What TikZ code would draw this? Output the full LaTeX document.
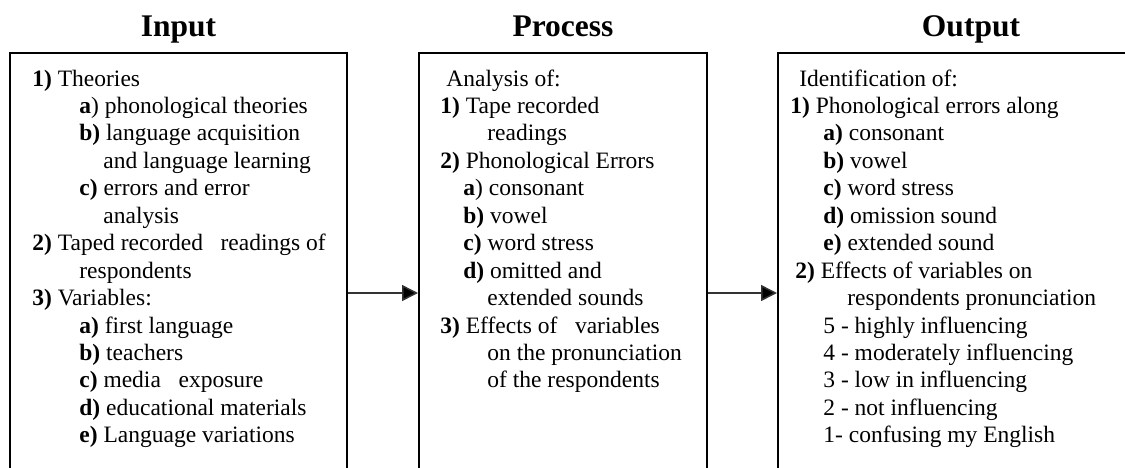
\documentclass[tikz,border=0pt]{standalone}
\usepackage{fontspec}
\setmainfont{Liberation Serif}
\usetikzlibrary{arrows.meta,positioning}
\tikzset{
  box/.style={draw=black, line width=1pt, minimum height=240pt, inner sep=0pt},
  arr/.style={draw=black!80, line width=0.75pt, -{Triangle[length=8pt,width=8pt,fill=black]}},
  head/.style={font=\fontsize{15.75}{18}\selectfont\bfseries, inner sep=0pt},
  lab/.style={font=\fontsize{11.75}{13.7}\selectfont, anchor=base west, inner sep=0pt},
}

\begin{document}
\begin{tikzpicture}[x=0.5pt,y=-0.5pt]
\useasboundingbox (0,0) rectangle (1125,467);
\clip (0,0) rectangle (1125,467);
% the three columns
\node[box, minimum width=168.5pt] (inbox) at (178.5,293) {};
\node[box, minimum width=144pt] (procbox) at (563,293) {};
\node[box, minimum width=193pt] (outbox) at (971,293) {};
\node[head, above=8pt of inbox.north, anchor=base] (inhead) {Input};
\node[head, above=8pt of procbox.north, anchor=base] (prochead) {Process};
\node[head, above=8pt of outbox.north, anchor=base] (outhead) {Output};
\draw[arr] (inbox.east) -- (procbox.west);
\draw[arr] (procbox.east) -- (outbox.west);
% input
\foreach \dx/\t [count=\i] in {
  0/{\textbf{1)} Theories},
  47/{\textbf{a}) phonological theories},
  47/{\textbf{b)} language acquisition},
  71/{and language learning},
  47/{\textbf{c)} errors and error},
  71/{analysis},
  0/{\textbf{2)} Taped recorded \ \ readings of},
  47/{respondents},
  0/{\textbf{3)} Variables:},
  47/{\textbf{a)} first language},
  47/{\textbf{b)} teachers},
  47/{\textbf{c)} media \ \ exposure},
  47/{\textbf{d)} educational materials},
  47/{\textbf{e)} Language variations}}
  \node[lab] (in\i) at (32+\dx, 86+27.45*\i-27.45) {\t};
% process
\foreach \dx/\t [count=\i] in {
  6/{Analysis of:},
  0/{\textbf{1)} Tape recorded},
  47/{readings},
  0/{\textbf{2)} Phonological Errors},
  23/{\textbf{a}) consonant},
  23/{\textbf{b)} vowel},
  23/{\textbf{c)} word stress},
  23/{\textbf{d)} omitted and},
  47/{extended sounds},
  0/{\textbf{3)} Effects of \ \ variables},
  47/{on the pronunciation},
  47/{of the respondents}}
  \node[lab] (proc\i) at (440+\dx, 86+27.45*\i-27.45) {\t};
% output
\foreach \dx/\t [count=\i] in {
  9/{Identification of:},
  0/{\textbf{1)} Phonological errors along},
  33/{\textbf{a)} consonant},
  33/{\textbf{b)} vowel},
  33/{\textbf{c)} word stress},
  33/{\textbf{d)} omission sound},
  33/{\textbf{e)} extended sound},
  5/{\textbf{2)} Effects of variables on},
  57/{respondents pronunciation},
  33/{5 - highly influencing},
  33/{4 - moderately influencing},
  33/{3 - low in influencing},
  33/{2 - not influencing},
  33/{1- confusing my English}}
  \node[lab] (out\i) at (790+\dx, 86+27.45*\i-27.45) {\t};
\end{tikzpicture}
\end{document}
